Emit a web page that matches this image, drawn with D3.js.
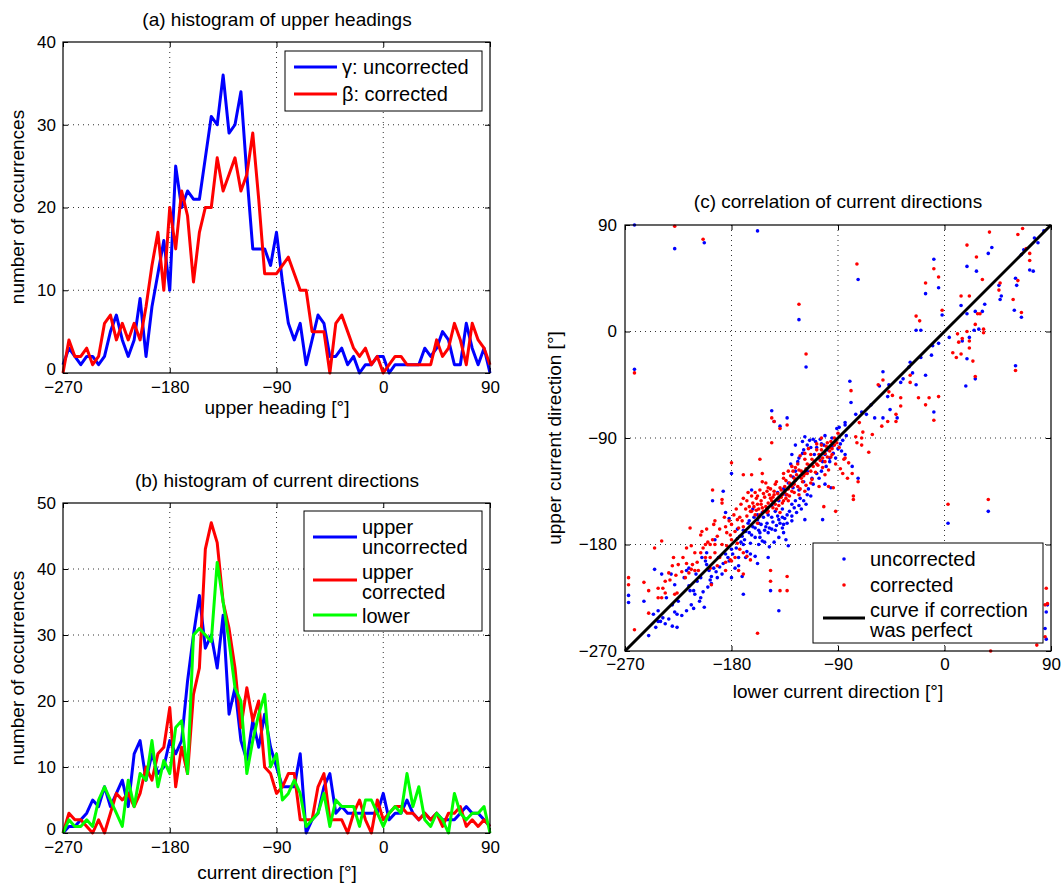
<!DOCTYPE html>
<html><head><meta charset="utf-8">
<script src="https://cdn.jsdelivr.net/npm/d3@7"></script>
<style>body{margin:0;background:#fff}svg text{font-family:"Liberation Sans",Arial,Helvetica,sans-serif}</style>
</head><body><svg id="c" width="1063" height="883"></svg>
<script>
// ---------- data ----------
const binCenters = d3.range(-270, 91, 5);
const headingUncorrected = [1,3,2,1,2,2,1,2,5,7,4,2,4,9,2,8,12,16,10,25,20,22,21,21,26,31,30,36,29,30,34,24,15,15,15,13,17,11,6,4,6,1,4,7,6,2,2,3,1,2,0,1,1,2,2,0,1,1,1,1,1,3,2,3,5,4,1,1,6,3,1,3,0];
const headingCorrected = [0,4,2,2,3,1,2,6,7,4,6,4,6,4,8,13,17,10,20,15,22,19,11,17,20,20,26,22,24,26,22,24,29,21,12,12,12,13,14,12,10,10,5,5,5,0,6,7,5,3,2,3,1,2,0,1,2,2,1,1,1,1,1,4,2,3,6,4,1,6,4,3,1];
const currentUpperUncorrected = [0,1,1,2,3,5,4,7,4,6,8,4,12,14,8,12,9,10,14,12,14,23,30,36,28,30,25,33,18,22,14,11,17,13,18,13,10,7,7,7,12,0,2,3,7,9,3,4,3,3,3,3,3,3,6,2,3,3,5,3,2,3,2,3,2,2,2,3,4,3,3,2,1];
const currentUpperCorrected = [0,3,2,2,1,0,2,0,3,6,5,6,4,6,10,8,12,13,19,7,13,9,21,25,43,47,44,35,31,25,16,22,17,20,10,9,6,7,9,9,2,2,2,7,9,2,2,2,0,3,5,2,0,5,2,3,4,4,3,3,2,3,2,3,1,3,3,4,1,2,1,2,1];
const currentLower = [0,2,1,1,2,1,5,7,5,3,1,8,4,9,8,14,7,11,9,16,17,9,30,31,30,29,41,35,29,22,20,9,14,18,21,10,12,5,6,8,6,1,2,3,6,1,5,4,4,4,1,5,5,3,1,3,4,3,9,4,7,2,1,3,2,0,6,3,2,3,3,4,0];

const xTicks = [-270,-180,-90,0,90];
const xTickLabels = ["\u2212270","\u2212180","\u221290","0","90"];
const yTicksA = [0,10,20,30,40];
const yTicksB = [0,10,20,30,40,50];
const yTicksC = [-270,-180,-90,0,90];
const yTickLabelsC = ["\u2212270","\u2212180","\u221290","0","90"];

const scatterUncorrected = [[-262,90],[-228,70],[-203,75],[-158,85],[-73,44],[-123,10],[-117,-30],[-262,-32],[60,-29],[37,-152],[3,-162],[-140,-236],[87,-231],[86,-237],[85,-251],[86,-260],[-267,-223],[-267,-229],
[84,85],[79,75],[76,79],[67,69],[65,65],[72,52],[75,51],[60,45],[61,39],[59,18],[65,12],[47,27],[48,30],[46,39],[40,71],[37,66],[27,51],[19,55],[34,23],[32,17],[26,17],[25,1],[21,-5],[19,-23],[18,-46],[26,-40],[14,22],[19,15],[-9,61],[-16,32],[-5,37],[-24,1],[-20,1],[-2,14],[-5,-10],[-11,-20],[-29,-26],[-27,-35],[-16,-37],[-24,-45],[-37,-43],[-52,-34],[-55,-46],[-47,-45],[-59,-73],[-52,-73],[-46,-66],[-40,-73],[-9,-68],[29,2],[15,-8],
[-80,-42],[-79,-60],[-70,-68],[-75,-70],[-84,-77],[-89,-81],[-91,-82],[-95,-90],[-101,-88],[-105,-91],[-111,-91],[-118,-89],[-87,-101],[-84,-104],[-78,-114],[-73,-124],[-97,-107],[-101,-104],[-103,-110],[-106,-107],[-110,-104],[-113,-98],[-120,-103],[-123,-107],[-129,-104],[-130,-112],[-126,-118],[-116,-118],[-112,-124],[-106,-124],[-101,-129],[-96,-132],[-116,-138],[-122,-141],[-126,-143],[-113,-139],[-103,-159],[-118,-159],[-129,-160],[-136,-163],[-140,-159],[-146,-157],[-151,-165],[-156,-170],[-149,-155],[-143,-152],[-137,-150],[-153,-157],[-157,-162],[-161,-157],[-158,-155],[-137,-157],[-134,-176],[-132,-181],[-149,-170],[-146,-167],[-142,-164],[-133,-155],[-146,-67],[-133,-73],[-139,-80],[-144,-76],[-180,-120],[-196,-143],[-187,-135],[-185,-153],[-182,-158],[-175,-167],[-173,-173],[-170,-180],[-167,-186],[-180,-184],[-185,-188],[-191,-191],[-195,-200],[-198,-210],[-188,-205],[-177,-200],[-171,-207],[-168,-191],[-164,-188],[-158,-196],[-170,-222],[-149,-191],[-147,-219],[-163,-134],[-162,-150],[-166,-162],[-168,-169],[-160,-174],[-154,-177],[-157,-180],[-163,-172],[-116,-96],[-108,-98],[-102,-96],[-95,-97],[-99,-100],[-92,-107],[-123,-134],[-119,-127],[-128,-132],[-134,-138],[-129,-146],[-140,-143],[-120,-93],[-126,-96],
[-84,-79],[-66,-70],[-62,-62],[-48,-55],[-35,-40],[-30,-30],[-20,-22],[-10,-12],[4,-5],
[-254,-228],[-250,-257],[-242,-236],[-240,-245],[-238,-242],[-230,-249],[-226,-250],[-228,-237],[-226,-239],[-245,-201],[-239,-205],[-228,-214],[-231,-205],[-220,-208],[-216,-200],[-215,-219],[-212,-219],[-211,-222],[-214,-231],[-206,-225],[-203,-233],[-218,-202],[-210,-205],[-202,-194],[-194,-176],[-199,-202],[-197,-207],[-192,-208],[-201,-187],[-205,-191],[-209,-211],[-235,-225],[-225,-228],[-242,-245],[-230,-231],[-216,-215],[-182,-194],[-174,-198],[-180,-208],[-174,-191],[-171,-173],[-164,-179],[-160,-190],[-201,-197],[-206,-208],
[-160,-166],[-157,-168],[-155,-163],[-152,-168],[-150,-162],[-148,-166],[-145,-161],[-143,-168],[-141,-156],[-139,-162],[-137,-166],[-135,-158],[-133,-162],[-131,-152],[-129,-156],[-127,-149],[-125,-153],[-123,-147],[-121,-150],[-119,-143],[-117,-146],[-115,-133],[-111,-129],[-108,-120],[-104,-118],[-100,-114],[-97,-110],[-94,-103],[-90,-99],[-88,-95],[-86,-92],[-83,-88],[-104,-95],[-109,-93],[-114,-92],[-119,-100],[-124,-110],[-128,-123],[-132,-128],[-136,-133],[-141,-136],[-146,-147],[-150,-150],[-154,-153],[-158,-159],[-162,-165],[-165,-170],[-169,-176],[-172,-178],[-176,-183],[-179,-188],[-183,-191],[-187,-196],[-190,-199],[-193,-203],[-197,-213],[-200,-216],[-204,-220],[-207,-228],[-212,-234],[-218,-236],[-222,-240],[-233,-243],[-236,-247],[-244,-250],[-246,-239],[-165,-160],[-170,-168],[-175,-175],[-156,-174],[-152,-178],[-148,-182],[-144,-178],[-140,-174],[-136,-170]];

const scatterCorrected = [[-228,89],[-204,78],[-74,57],[-123,23],[-117,-19],[-262,-35],[60,-33],[37,-142],[3,-146],[-158,-255],[-133,-207],[-133,-219],[-139,-219],[-147,-202],[-147,-211],
[87,-230],[86,-217],[85,-231],[85,-258],[78,-265],[39,-270],[-267,-208],[-267,-214],[-262,-252],
[38,84],[66,87],[62,82],[72,66],[72,60],[69,70],[19,73],[27,63],[32,44],[47,41],[14,30],[21,30],[28,15],[30,15],[26,6],[33,2],[33,-1],[46,35],[58,27],[62,43],[65,16],[11,-2],[12,-9],[21,-8],[15,-6],[7,-18],[10,-22],[14,-19],[21,-14],[24,-25],[26,-38],[19,0],[-9,53],[-5,46],[-2,18],[-16,41],[-21,9],[-24,13],[-29,-37],[-22,-56],[-13,-56],[-5,-55],[-16,-62],[-9,-75],[-29,-43],[-47,-51],[-37,-56],[-37,-63],[-41,-70],[-53,-80],[-48,-76],[-41,-76],[-44,-54],[-52,-41],[-56,-45],
[-79,-50],[-72,-77],[-69,-85],[-70,-90],[-70,-96],[-74,-94],[-75,-89],[-64,-102],[-61,-87],[-99,-94],[-97,-98],[-95,-104],[-101,-110],[-98,-117],[-101,-121],[-103,-115],[-108,-112],[-112,-108],[-116,-112],[-118,-120],[-123,-117],[-129,-114],[-132,-118],[-136,-124],[-127,-124],[-120,-127],[-113,-128],[-106,-131],[-98,-131],[-94,-132],[-92,-152],[-102,-148],[-84,-107],[-81,-111],[-78,-120],[-73,-127],[-77,-139],[-77,-142],[-85,-108],[-146,-73],[-144,-76],[-139,-82],[-133,-79],[-146,-94],
[-180,-111],[-170,-121],[-163,-121],[-156,-108],[-154,-120],[-154,-127],[-151,-128],[-149,-132],[-144,-135],[-143,-129],[-139,-132],[-137,-138],[-134,-141],[-132,-143],[-140,-141],[-146,-143],[-149,-145],[-151,-148],[-154,-149],[-157,-150],[-158,-146],[-161,-148],[-163,-152],[-160,-155],[-156,-155],[-153,-152],[-150,-149],[-143,-146],[-137,-145],[-133,-138],[-129,-135],[-123,-138],[-118,-135],[-142,-150],[-139,-153],[-149,-152],[-157,-157],[-158,-162],[-164,-152],[-167,-143],[-167,-156],[-171,-160],[-174,-166],[-177,-169],[-170,-165],[-173,-157],[-175,-159],[-180,-163],[-181,-172],[-184,-170],[-185,-165],[-188,-142],[-188,-145],[-196,-134],[-194,-160],[-195,-163],[-201,-167],[-205,-169],[-215,-166],[-214,-181],[-202,-180],[-198,-180],[-194,-180],[-188,-180],[-184,-181],[-180,-176],[-175,-179],[-173,-184],[-170,-187],[-167,-190],[-164,-193],[-177,-191],[-181,-193],[-185,-195],[-190,-191],[-194,-187],[-198,-191],[-202,-191],[-206,-187],[-211,-187],[-211,-202],[-214,-201],[-216,-204],[-221,-191],[-218,-183],[-225,-197],[-230,-198],[-229,-191],[-233,-204],[-236,-211],[-238,-217],[-245,-183],[-239,-177],[-254,-212],[-250,-219],[-242,-217],[-242,-225],[-239,-225],[-228,-222],[-226,-221],[-250,-238],[-198,-200],[-192,-198],[-185,-202],[-180,-194],[-174,-202],[-170,-205],[-197,-214],[-208,-202],[-219,-208],[-206,-172],
[-148,-138],[-145,-140],[-141,-137],[-138,-134],[-135,-131],[-131,-128],[-127,-129],[-125,-121],[-121,-118],[-117,-116],[-114,-113],[-110,-110],[-106,-104],[-104,-100],[-100,-97],[-96,-93],[-93,-90],[-90,-86],[-152,-140],[-155,-143],[-159,-141],[-147,-133],[-142,-127],[-136,-120],[-130,-122],[-126,-115],[-122,-105],[-118,-103],[-115,-99],[-108,-95],[-104,-90],
[-160,-136],[-158,-139],[-156,-134],[-153,-137],[-150,-135],[-147,-141],[-144,-138],[-141,-142],[-138,-140],[-135,-136],[-132,-133],[-129,-131],[-126,-126],[-124,-131],[-121,-124],[-119,-122],[-116,-120],[-113,-118],[-111,-114],[-109,-119],[-107,-113],[-105,-109],[-103,-107],[-101,-103],[-99,-106],[-97,-101],[-95,-99],[-93,-96],[-91,-94],[-89,-98],[-112,-125],[-117,-130],[-122,-133],[-127,-136],[-131,-139],[-136,-143],[-140,-147],[-145,-149],[-150,-153],[-155,-146],[-159,-151],[-162,-145],[-165,-148],[-168,-150],[-163,-139],[-166,-136],[-170,-141],[-172,-146],[-176,-150],[-178,-155],[-182,-160],[-186,-157],[-190,-167],[-192,-173],[-196,-176],[-200,-178],[-204,-183],[-209,-195],[-213,-197],[-218,-196],[-222,-203],[-227,-206],[-232,-210],[-236,-221],[-134,-126],[-128,-118],[-124,-112],[-118,-108],[-113,-104],[-108,-100],[-104,-96],[-96,-106],[-92,-112],[-88,-116],[-86,-120],[-82,-124]];

const perfectLine = [[-270,-270],[90,90]];

// ---------- drawing ----------
const svg = d3.select("#c");
const FONT = '"Liberation Sans",Arial,Helvetica,sans-serif';

function frame(x, y, xt, xtl, yt, ytl, opt) {
  const g = svg.append("g");
  const [x0,x1] = x.range(), [y0,y1] = y.range();
  const grid = g.append("g").attr("stroke","#333").attr("stroke-width",1).attr("stroke-dasharray","1,4");
  xt.slice(1,-1).forEach(v => grid.append("line").attr("x1",x(v)).attr("x2",x(v)).attr("y1",y0).attr("y2",y1));
  yt.slice(1,-1).forEach(v => grid.append("line").attr("y1",y(v)).attr("y2",y(v)).attr("x1",x0).attr("x2",x1));
  const style = s => s.attr("font-size",opt.tick).attr("font-family",FONT).call(a=>a.select(".domain").remove()).selectAll("line").attr("stroke","#000");
  g.append("g").attr("transform",`translate(0,${y0})`).call(d3.axisBottom(x).tickValues(xt).tickFormat((d,i)=>xtl[i]).tickSizeInner(-5).tickSizeOuter(0).tickPadding(opt.padX)).call(style);
  g.append("g").attr("transform",`translate(0,${y1})`).call(d3.axisTop(x).tickValues(xt).tickFormat("").tickSizeInner(-5).tickSizeOuter(0)).call(style);
  const ly = g.append("g").attr("transform",`translate(${x0},0)`).call(d3.axisLeft(y).tickValues(yt).tickFormat((d,i)=>ytl[i]).tickSizeInner(-5).tickSizeOuter(0).tickPadding(opt.padY)).call(style);
  if (opt.lowShift) ly.selectAll(".tick text").filter((d,i)=>i===0).attr("y",-opt.lowShift);
  g.append("g").attr("transform",`translate(${x1},0)`).call(d3.axisRight(y).tickValues(yt).tickFormat("").tickSizeInner(-5).tickSizeOuter(0)).call(style);
  g.selectAll("text").attr("fill","#000");
  return g;
}
function box(x, y) {
  const [x0,x1] = x.range(), [y0,y1] = y.range();
  svg.append("rect").attr("x",x0).attr("y",y1).attr("width",x1-x0).attr("height",y0-y1).attr("fill","none").attr("stroke","#000").attr("stroke-width",1.2);
}
function label(txt, x, y, size, rot) {
  const t = svg.append("text").attr("text-anchor","middle").attr("font-size",size).attr("fill","#000").text(txt);
  if (rot) t.attr("transform",`translate(${x},${y}) rotate(-90)`); else t.attr("x",x).attr("y",y);
  return t;
}

// Panel (a)
const xA = d3.scaleLinear().domain([-270,90]).range([63,490]);
const yA = d3.scaleLinear().domain([0,40]).range([373,42]);
frame(xA, yA, xTicks, xTickLabels, yTicksA, yTicksA.map(String), {tick:17, padX:8, padY:7, lowShift:4});
const lineA = d3.line().x((d,i)=>xA(binCenters[i])).y(d=>yA(d));
[[headingUncorrected,"#0000ff"],[headingCorrected,"#ff0000"]].forEach(([d,c]) =>
  svg.append("path").datum(d).attr("d",lineA).attr("fill","none").attr("stroke",c).attr("stroke-width",3).attr("stroke-linejoin","round"));
box(xA, yA);
label("(a) histogram of upper headings", 277, 26, 19);
label("upper heading [\u00b0]", 277, 414, 19);
label("number of occurrences", 24, 207, 19, true);
svg.append("rect").attr("x",285).attr("y",51).attr("width",197).attr("height",60).attr("fill","#fff").attr("stroke","#000");
[["\u03b3: uncorrected","#0000ff",67],["\u03b2: corrected","#ff0000",94]].forEach(([t,c,yy])=>{
  svg.append("line").attr("x1",294).attr("x2",337).attr("y1",yy).attr("y2",yy).attr("stroke",c).attr("stroke-width",3);
  svg.append("text").attr("x",342).attr("y",yy+7).attr("font-size",20).text(t);
});

// Panel (b)
const xB = d3.scaleLinear().domain([-270,90]).range([63,490]);
const yB = d3.scaleLinear().domain([0,50]).range([833,503]);
frame(xB, yB, xTicks, xTickLabels, yTicksB, yTicksB.map(String), {tick:17, padX:8, padY:7, lowShift:4});
const lineB = d3.line().x((d,i)=>xB(binCenters[i])).y(d=>yB(d));
[[currentUpperUncorrected,"#0000ff"],[currentUpperCorrected,"#ff0000"],[currentLower,"#00ff00"]].forEach(([d,c]) =>
  svg.append("path").datum(d).attr("d",lineB).attr("fill","none").attr("stroke",c).attr("stroke-width",3).attr("stroke-linejoin","round"));
box(xB, yB);
label("(b) histogram of current directions", 277, 487, 19);
label("current direction [\u00b0]", 277, 879, 19);
label("number of occurrences", 24, 668, 19, true);
svg.append("rect").attr("x",304).attr("y",511).attr("width",178).attr("height",120).attr("fill","#fff").attr("stroke","#000");
[[["upper","uncorrected"],"#0000ff",537,[527,547]],[["upper","corrected"],"#ff0000",580,[572,592]],[["lower"],"#00ff00",615,[616]]].forEach(([ts,c,yy,ty])=>{
  svg.append("line").attr("x1",313).attr("x2",357).attr("y1",yy).attr("y2",yy).attr("stroke",c).attr("stroke-width",3);
  ts.forEach((t,k)=>svg.append("text").attr("x",362).attr("y",ty[k]+7).attr("font-size",20).text(t));
});

// Panel (c)
const xC = d3.scaleLinear().domain([-270,90]).range([625,1051]);
const yC = d3.scaleLinear().domain([-270,90]).range([651,225]);
frame(xC, yC, xTicks, xTickLabels, yTicksC, yTickLabelsC, {tick:17, padX:7, padY:8});
const pts = svg.append("g");
pts.selectAll(".u").data(scatterUncorrected).join("circle").attr("cx",d=>xC(d[0])).attr("cy",d=>yC(d[1])).attr("r",1.8).attr("fill","#0000ff");
pts.selectAll(".k").data(scatterCorrected).join("circle").attr("cx",d=>xC(d[0])).attr("cy",d=>yC(d[1])).attr("r",1.8).attr("fill","#ff0000");
svg.append("path").datum(perfectLine).attr("d",d3.line().x(d=>xC(d[0])).y(d=>yC(d[1]))).attr("stroke","#000").attr("stroke-width",3);
box(xC, yC);
label("(c) correlation of current directions", 838, 208, 19);
label("lower current direction [\u00b0]", 838, 698, 19);
label("upper current direction [\u00b0]", 561, 438, 19, true);
svg.append("rect").attr("x",813).attr("y",543).attr("width",230).attr("height",100).attr("fill","#fff").attr("stroke","#000");
svg.append("circle").attr("cx",844).attr("cy",559).attr("r",1.8).attr("fill","#0000ff");
svg.append("circle").attr("cx",844).attr("cy",585).attr("r",1.8).attr("fill","#ff0000");
svg.append("line").attr("x1",823).attr("x2",865).attr("y1",618).attr("y2",618).attr("stroke","#000").attr("stroke-width",3);
[["uncorrected",559],["corrected",585],["curve if correction",610],["was perfect",630]].forEach(([t,yy])=>
  svg.append("text").attr("x",870).attr("y",yy+7).attr("font-size",20).text(t));
</script></body></html>
